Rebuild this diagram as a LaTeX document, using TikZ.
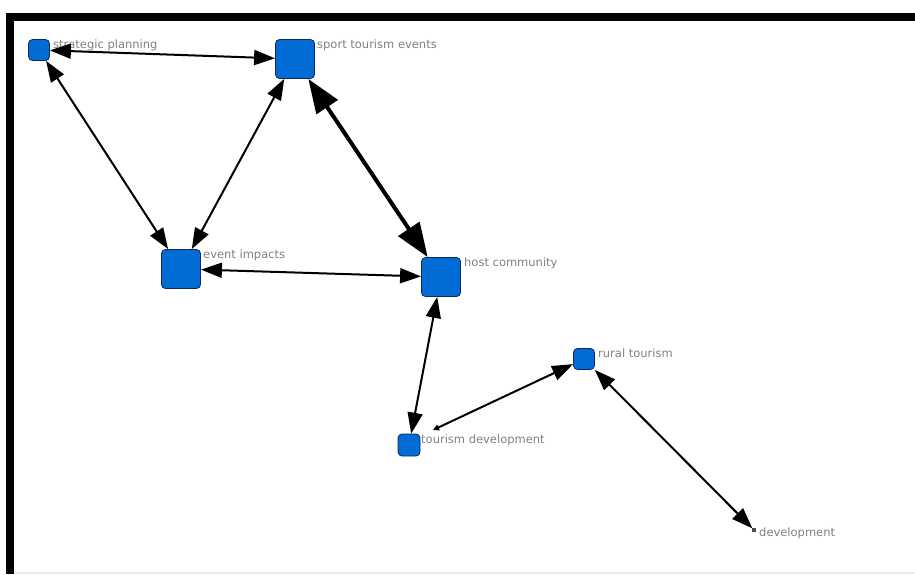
\documentclass[tikz,border=0pt]{standalone}
\usepackage{fontspec}
\setmainfont{DejaVu Sans}
\usetikzlibrary{arrows.meta}
\definecolor{nodeblue}{RGB}{0,108,212}
\definecolor{nodeedge}{RGB}{16,40,96}
\definecolor{labelgray}{RGB}{128,128,128}
\begin{document}
\begin{tikzpicture}[x=1pt,y=-1pt,
	concept/.style={draw=nodeedge,fill=nodeblue,rounded corners=4pt,minimum size=#1,inner sep=0pt,line width=0.8pt},
	lbl/.style={anchor=base west,text=labelgray,font=\fontsize{11.5}{13}\selectfont,inner sep=0pt},
	link/.style={{Triangle[length=21pt,width=15pt]}-{Triangle[length=21pt,width=15pt]},line width=2pt},
	strong/.style={{Triangle[length=34pt,width=25pt]}-{Triangle[length=34pt,width=25pt]},line width=4pt},
	%weak/.style={dashed}
	]
	\useasboundingbox (0,0) rectangle (915,574);
	% frame
	\fill (6,13) rectangle (915,21);
	\fill (6,13) rectangle (14,574);
	\fill[black!8] (14,572) rectangle (915,574);
	% concepts
	\node[concept=21pt] (sp) at (39,50) {};
	\node[concept=39pt] (ste) at (295,59) {};
	\node[concept=39pt] (ei) at (181,269) {};
	\node[concept=39pt] (hc) at (441,277) {};
	\node[concept=22pt] (td) at (409,445) {};
	\node[concept=21pt] (rt) at (584,359) {};
	\node[concept=2.5pt,rounded corners=0pt,draw=black!70,fill=black!70] (dev) at (754,530) {};
	\coordinate (tdend) at (433,430);
	% labels
	\node[lbl] (splbl) at (53,48) {strategic planning};
	\node[lbl] (stelbl) at (317,48) {sport tourism events};
	\node[lbl] (eilbl) at (203,258) {event impacts};
	\node[lbl] (hclbl) at (464,266) {host community};
	\node[lbl] (tdlbl) at (421,443) {tourism development};
	\node[lbl] (rtlbl) at (598,357) {rural tourism};
	\node[lbl] (devlbl) at (759,536) {development};
	% links
	\draw[link] (sp) -- (ste);
	\draw[link] (sp) -- (ei);
	\draw[link] (ste) -- (ei);
	\draw[strong] (ste) -- (hc);
	\draw[link] (ei) -- (hc);
	\draw[link] (hc) -- (td);
	\draw[link,{Triangle[length=6pt,width=6pt]}-{Triangle[length=21pt,width=15pt]}] (tdend) -- (rt);
	\draw[link] (rt) -- (dev);
\end{tikzpicture}
\end{document}
